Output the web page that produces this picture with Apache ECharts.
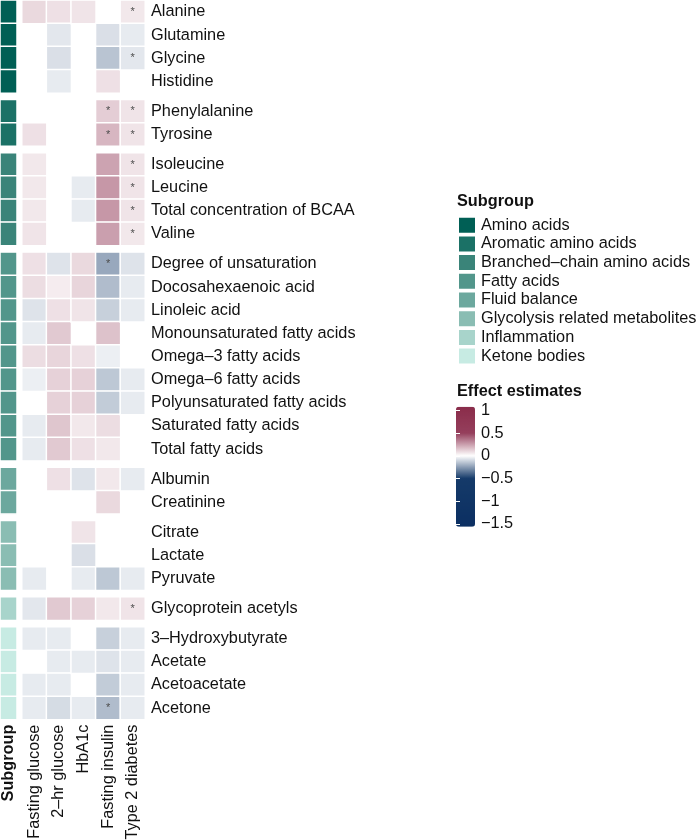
<!DOCTYPE html>
<html><head><meta charset="utf-8">
<script src="https://cdn.jsdelivr.net/npm/echarts@6/dist/echarts.min.js"></script>
<style>html,body{margin:0;padding:0;background:#fff}#c{width:700px;height:840px}</style>
</head><body><div id="c"></div>
<script>
const outcomes = ['Fasting glucose', '2–hr glucose', 'HbA1c', 'Fasting insulin', 'Type 2 diabetes'];
const subgroups = ['Amino acids', 'Aromatic amino acids', 'Branched–chain amino acids', 'Fatty acids',
  'Fluid balance', 'Glycolysis related metabolites', 'Inflammation', 'Ketone bodies'];
const subgroupColors = ['#005f55', '#1b7166', '#3a8479', '#52968b', '#6ca89e', '#8abdb3', '#a8d4cb', '#c7ebe3'];
const groupSizes = [4, 2, 4, 9, 2, 3, 1, 4];
const metabolites = ['Alanine', 'Glutamine', 'Glycine', 'Histidine',
  'Phenylalanine', 'Tyrosine',
  'Isoleucine', 'Leucine', 'Total concentration of BCAA', 'Valine',
  'Degree of unsaturation', 'Docosahexaenoic acid', 'Linoleic acid', 'Monounsaturated fatty acids',
  'Omega–3 fatty acids', 'Omega–6 fatty acids', 'Polyunsaturated fatty acids', 'Saturated fatty acids', 'Total fatty acids',
  'Albumin', 'Creatinine',
  'Citrate', 'Lactate', 'Pyruvate',
  'Glycoprotein acetyls',
  '3–Hydroxybutyrate', 'Acetate', 'Acetoacetate', 'Acetone'];
const fastingGlucose = [0.10, null, null, null, null, 0.08, 0.06, 0.06, 0.06, 0.07,
  0.08, 0.09, -0.07, -0.05, 0.09, -0.04, null, -0.05, -0.05, null, null, null, null, -0.05, -0.06, -0.05, null, -0.05, -0.05];
const twoHrGlucose = [0.08, -0.06, -0.08, -0.05, null, null, null, null, null, null,
  -0.07, 0.05, 0.08, 0.14, 0.11, 0.12, 0.12, 0.15, 0.14, 0.08, null, null, null, null, 0.14, -0.05, -0.05, -0.05, -0.09];
const hba1c = [0.07, null, null, null, null, null, null, -0.05, -0.05, null,
  0.10, 0.11, 0.07, null, 0.08, 0.12, 0.12, 0.06, 0.08, -0.07, null, 0.07, -0.08, -0.05, 0.12, null, -0.05, null, -0.05];
const fastingInsulin = [null, -0.08, -0.15, 0.08, 0.13, 0.19, 0.24, 0.27, 0.27, 0.25,
  -0.22, -0.17, -0.12, 0.16, -0.04, -0.14, -0.13, 0.09, 0.06, 0.06, 0.10, null, null, -0.14, 0.06, -0.12, -0.07, -0.13, -0.17];
const type2Diabetes = [0.06, -0.05, -0.06, null, 0.07, 0.07, 0.07, 0.07, 0.07, 0.06,
  -0.07, -0.05, -0.05, null, null, -0.05, -0.05, null, null, -0.05, null, null, null, -0.05, 0.07, -0.05, -0.05, -0.05, -0.05];
const starFastingInsulin = ['Phenylalanine', 'Tyrosine', 'Degree of unsaturation', 'Acetone'];
const starType2Diabetes = ['Alanine', 'Glycine', 'Phenylalanine', 'Tyrosine', 'Isoleucine', 'Leucine',
  'Total concentration of BCAA', 'Valine', 'Glycoprotein acetyls'];
const effectTicks = [1, 0.5, 0, -0.5, -1, -1.5];
const effectMin = -1.56, effectMax = 1.08;

const FONT = "'Liberation Sans', Arial, Helvetica, sans-serif";
const TXT = '#111111';
const FS = 16.3;
const outcomeValues = [fastingGlucose, twoHrGlucose, hba1c, fastingInsulin, type2Diabetes];
const outcomeStars = [[], [], [], starFastingInsulin, starType2Diabetes];

// colour ramp for the continuous scale
const anchors = [[-1.56, [11, 47, 98]], [-0.5, [21, 58, 105]], [0, [255, 255, 255]], [0.5, [149, 63, 92]], [1.08, [138, 44, 74]]];
function rampColor(v) {
  for (let i = 0; i < anchors.length - 1; i++) {
    const a = anchors[i], b = anchors[i + 1];
    if (v <= b[0] + 1e-9) {
      const t = Math.max(0, Math.min(1, (v - a[0]) / (b[0] - a[0])));
      const c = a[1].map((x, j) => Math.round(x + (b[1][j] - x) * t));
      return 'rgb(' + c.join(',') + ')';
    }
  }
  return 'rgb(' + anchors[anchors.length - 1][1].join(',') + ')';
}
const ramp = [];
for (let i = 0; i <= 132; i++) ramp.push(rampColor(effectMin + i * 0.02));

const P = 23.15, G = 6.85, TOP0 = 0.3;
const grids = [], xAxes = [], yAxes = [], series = [], dataSeriesIdx = [];
let start = 0;
groupSizes.forEach((n, k) => {
  const rows = metabolites.slice(start, start + n);
  const top = TOP0 + start * P + k * G;
  const h = n * P;
  const last = k === groupSizes.length - 1;
  grids.push({left: 0.25, top: top, width: 16.5, height: h, outerBoundsMode: 'none', containLabel: false});
  grids.push({left: 22, top: top, width: 123, height: h, outerBoundsMode: 'none', containLabel: false});
  xAxes.push({type: 'category', gridIndex: 2 * k, data: ['Subgroup'], axisLine: {show: false}, axisTick: {show: false},
    splitLine: {show: false},
    axisLabel: {show: last, rotate: 90, margin: 5, fontSize: FS, fontWeight: 'bold', fontFamily: FONT, color: TXT}});
  xAxes.push({type: 'category', gridIndex: 2 * k + 1, data: outcomes, axisLine: {show: false}, axisTick: {show: false},
    splitLine: {show: false},
    axisLabel: {show: last, rotate: 90, margin: 5, fontSize: FS, fontFamily: FONT, color: TXT, interval: 0}});
  yAxes.push({type: 'category', gridIndex: 2 * k, data: rows, inverse: true, show: false});
  yAxes.push({type: 'category', gridIndex: 2 * k + 1, data: rows, inverse: true, position: 'right',
    axisLine: {show: false}, axisTick: {show: false}, splitLine: {show: false},
    axisLabel: {margin: 6, fontSize: FS, fontFamily: FONT, color: TXT, interval: 0}});
  series.push({
    type: 'heatmap', name: subgroups[k], xAxisIndex: 2 * k, yAxisIndex: 2 * k,
    data: rows.map((r, j) => [0, j, 1]),
    itemStyle: {color: subgroupColors[k], borderColor: '#ffffff', borderWidth: 1.5},
    emphasis: {disabled: true}, silent: true
  });
  const data = [];
  outcomeValues.forEach((arr, xi) => {
    rows.forEach((r, j) => {
      const v = arr[start + j];
      if (v !== null && v !== undefined) data.push([xi, j, v, outcomeStars[xi].includes(r) ? 1 : 0]);
    });
  });
  dataSeriesIdx.push(series.length);
  series.push({
    type: 'heatmap', name: 'effect_' + k, xAxisIndex: 2 * k + 1, yAxisIndex: 2 * k + 1, data: data,
    itemStyle: {borderColor: '#ffffff', borderWidth: 1.5},
    label: {show: true, formatter: p => (p.data[3] ? '*' : ''), fontSize: 11, color: '#4d4d4d', fontFamily: FONT},
    emphasis: {disabled: true}, silent: true
  });
  start += n;
});

// colourbar axis grid
const cbLeft = 456, cbTop = 406.7, cbW = 19, cbH = 120;
const cbGrid = grids.length;
grids.push({left: cbLeft, top: cbTop, width: cbW, height: cbH, outerBoundsMode: 'none', containLabel: false});
xAxes.push({type: 'value', gridIndex: cbGrid, show: false, min: 0, max: 1});
yAxes.push({type: 'value', gridIndex: cbGrid, position: 'right', min: effectMin, max: effectMax, z: 10,
  axisLine: {show: false}, splitLine: {show: false},
  axisTick: {show: true, inside: true, length: 4, lineStyle: {color: '#ffffff', width: 1}, customValues: effectTicks},
  axisLabel: {show: true, margin: 6, fontSize: FS, fontFamily: FONT, color: TXT, customValues: effectTicks,
    formatter: v => String(v).replace('-', '\u2212')}});
yAxes.push({type: 'value', gridIndex: cbGrid, position: 'left', min: effectMin, max: effectMax, z: 10,
  axisLine: {show: false}, splitLine: {show: false},
  axisTick: {show: true, inside: true, length: 4, lineStyle: {color: '#ffffff', width: 1}, customValues: effectTicks},
  axisLabel: {show: false}});

const chart = echarts.init(document.getElementById('c'), null, {renderer: 'canvas'});
chart.setOption({
  animation: false,
  backgroundColor: '#ffffff',
  textStyle: {fontFamily: FONT},
  grid: grids, xAxis: xAxes, yAxis: yAxes, series: series,
  legend: {
    data: subgroups, orient: 'vertical', left: 457, top: 215.7, padding: 0,
    itemWidth: 18, itemHeight: 17, itemGap: -0.3, icon: 'rect', selectedMode: false,
    textStyle: {fontSize: FS, fontFamily: FONT, color: TXT}
  },
  visualMap: {
    type: 'continuous', seriesIndex: dataSeriesIdx, dimension: 2, min: effectMin, max: effectMax,
    left: cbLeft, top: cbTop, itemWidth: cbW, itemHeight: cbH, padding: 0, calculable: false,
    hoverLink: false, text: null, showLabel: false, inRange: {color: ramp}, z: 4
  },
  graphic: [
    {type: 'text', left: 457, top: 194, style: {text: 'Subgroup', fontSize: FS, fontWeight: 'bold', fontFamily: FONT, fill: TXT}},
    {type: 'text', left: 457, top: 384, style: {text: 'Effect estimates', fontSize: FS, fontWeight: 'bold', fontFamily: FONT, fill: TXT}}
  ]
});
</script></body></html>
